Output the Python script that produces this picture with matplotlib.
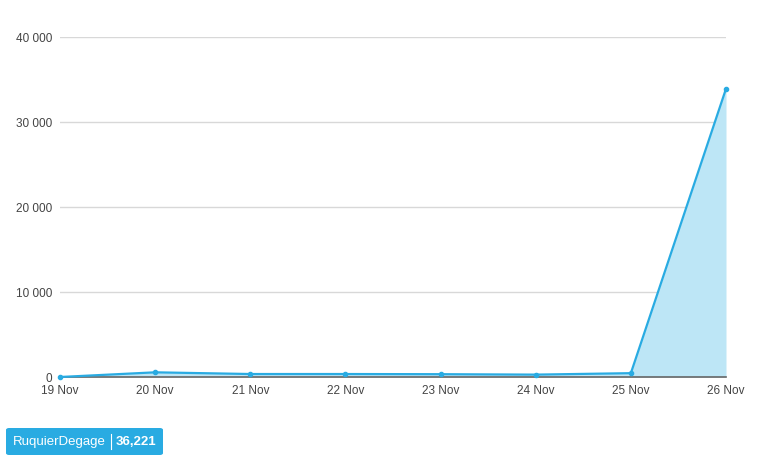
import matplotlib
matplotlib.use("Agg")
import matplotlib.pyplot as plt
from matplotlib.patches import FancyBboxPatch
from matplotlib.ticker import FuncFormatter

plt.rcParams['font.family'] = ['Liberation Sans', 'DejaVu Sans']

dates = ["19 Nov", "20 Nov", "21 Nov", "22 Nov", "23 Nov", "24 Nov", "25 Nov", "26 Nov"]
values = [0, 550, 350, 350, 330, 280, 450, 33911]
series_name = "RuquierDegage"
total_label = "36,221"
yticks = [0, 10000, 20000, 30000, 40000]

line_color = "#29abe2"
fill_color = "#bde6f6"

fig = plt.figure(figsize=(7.68, 4.69), dpi=100)
ax = fig.add_axes([60/768, 1-377/469, (726-60)/768, (377-37)/469])
x = list(range(len(dates)))
ax.fill_between(x, values, 0, color=fill_color, lw=0, zorder=1)
ax.plot(x, values, color=line_color, lw=1.6, marker='o', ms=3, zorder=3, clip_on=False)

ax.set_xlim(0, len(dates)-1)
ax.set_ylim(0, 40000)
ax.set_yticks(yticks)
ax.yaxis.set_major_formatter(FuncFormatter(lambda v, p: f"{int(v):,}".replace(",", " ")))
ax.set_xticks(x)
ax.set_xticklabels(dates)
ax.grid(axis='y', color='#d8d8d8', lw=1)
ax.set_axisbelow(True)
for s in ['top', 'right', 'left']:
    ax.spines[s].set_visible(False)
ax.spines['bottom'].set_color('#666666')
ax.spines['bottom'].set_linewidth(1.2)
ax.spines['bottom'].set_zorder(2)
ax.tick_params(axis='both', length=0, labelsize=8.5, colors='#444444')
ax.tick_params(axis='x', pad=6)
ax.tick_params(axis='y', pad=5.5)

# legend badge
box = FancyBboxPatch((6/768, 1-455/469), (163-6)/768, (455-428)/469,
                     boxstyle="round,pad=0,rounding_size=0.004",
                     transform=fig.transFigure, facecolor=line_color,
                     edgecolor='none')
fig.patches.append(box)
yc = 1-441.5/469
fig.text(13/768, yc, series_name, color='white', fontsize=9.5, va='center', ha='left')
fig.add_artist(plt.Line2D([111/768, 111/768], [1-449/469, 1-434/469],
                          transform=fig.transFigure, color='white', lw=0.8))
fig.text(116/768, yc, total_label, color='white', fontsize=9.5, va='center',
         ha='left', fontweight='bold')

fig.savefig("out.png", dpi=100)
